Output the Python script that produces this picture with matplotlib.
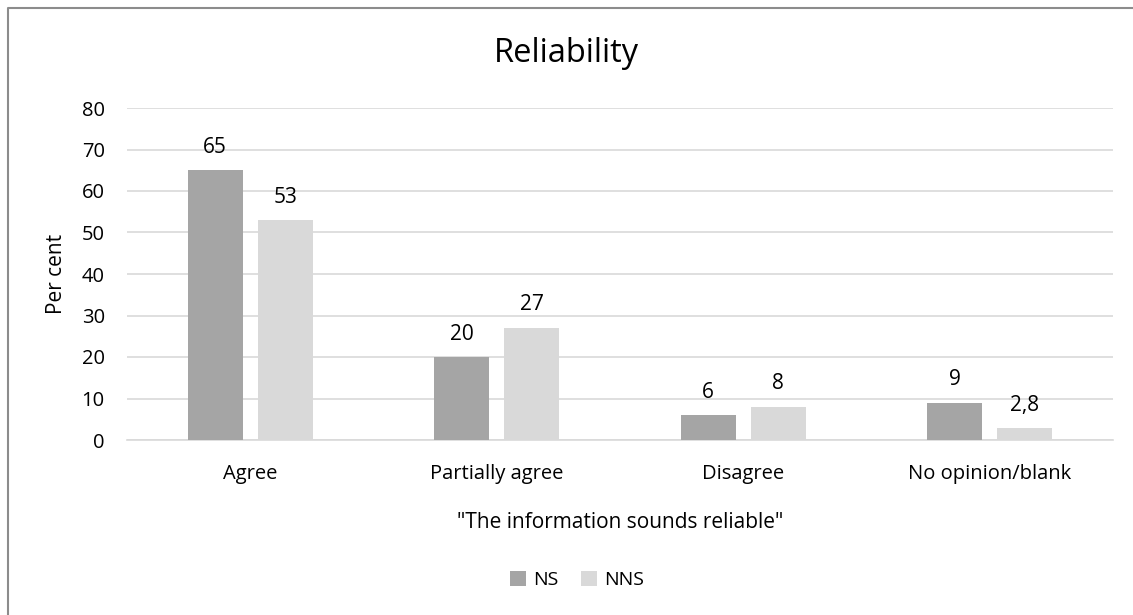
import matplotlib
matplotlib.use("Agg")
import matplotlib.pyplot as plt
import numpy as np
from matplotlib.lines import Line2D

categories = ["Agree", "Partially agree", "Disagree", "No opinion/blank"]
ns_values = [65, 20, 6, 9]
nns_values = [53, 27, 8, 2.8]
ns_labels = ["65", "20", "6", "9"]
nns_labels = ["53", "27", "8", "2,8"]
series_names = ["NS", "NNS"]
yticks = [0, 10, 20, 30, 40, 50, 60, 70, 80]

plt.rcParams['font.family'] = ['Open Sans', 'DejaVu Sans']

W, H = 1133, 615
fig = plt.figure(figsize=(W / 100, H / 100), dpi=100)
ax = fig.add_axes([127 / W, 1 - 440 / H, (1113 - 127) / W, (440 - 108) / H])

x = np.arange(len(categories))
bw = 0.223
off = 0.142
c_ns = "#A5A5A5"
c_nns = "#D9D9D9"
b1 = ax.bar(x - off, ns_values, bw, color=c_ns, label=series_names[0], zorder=3)
b2 = ax.bar(x + off, nns_values, bw, color=c_nns, label=series_names[1], zorder=3)

for bars, labs in ((b1, ns_labels), (b2, nns_labels)):
    for r, lab in zip(bars, labs):
        ax.annotate(lab, (r.get_x() + r.get_width() / 2, r.get_height()),
                    xytext=(0, 9), textcoords="offset points",
                    ha="center", va="bottom", fontsize=15, color="#000000")

ax.set_xlim(-0.5, len(categories) - 0.5)
ax.set_ylim(0, 80)
ax.set_yticks(yticks)
ax.set_xticks(x)
ax.set_xticklabels(categories)
ax.tick_params(axis="both", length=0, labelsize=14.5, colors="#000000")
ax.tick_params(axis="y", pad=16)
ax.tick_params(axis="x", pad=17)
ax.grid(axis="y", color="#D9D9D9", linewidth=1.2, zorder=0)
for s in ("top", "right", "left"):
    ax.spines[s].set_visible(False)
ax.spines["bottom"].set_color("#D9D9D9")
ax.spines["bottom"].set_linewidth(1.2)

ax.set_ylabel("Per cent", fontsize=15)
ax.yaxis.set_label_coords((56 - 127) / (1113 - 127), 0.5)
ax.set_xlabel("\"The information sounds reliable\"", fontsize=15)
ax.xaxis.set_label_coords(0.5, -(522 - 440) / (440 - 108))
ax.xaxis.label.set_va("center")
ax.yaxis.label.set_va("center")
fig.text(0.5, 1 - 53 / H, "Reliability", ha="center", va="center", fontsize=23.5)

leg = fig.legend(handles=[b1, b2], labels=series_names, loc="center",
                 bbox_to_anchor=(577 / W, 1 - 580 / H), ncol=2, frameon=False,
                 fontsize=14, handlelength=0.8, handleheight=0.8,
                 columnspacing=1.2, handletextpad=0.35)

fig.add_artist(Line2D([7.5 / W, 7.5 / W, 1.0], [0.0, 1 - 8 / H, 1 - 8 / H],
                      transform=fig.transFigure, color="#8C8C8C", linewidth=1.5))

fig.savefig("out.png", dpi=100)
